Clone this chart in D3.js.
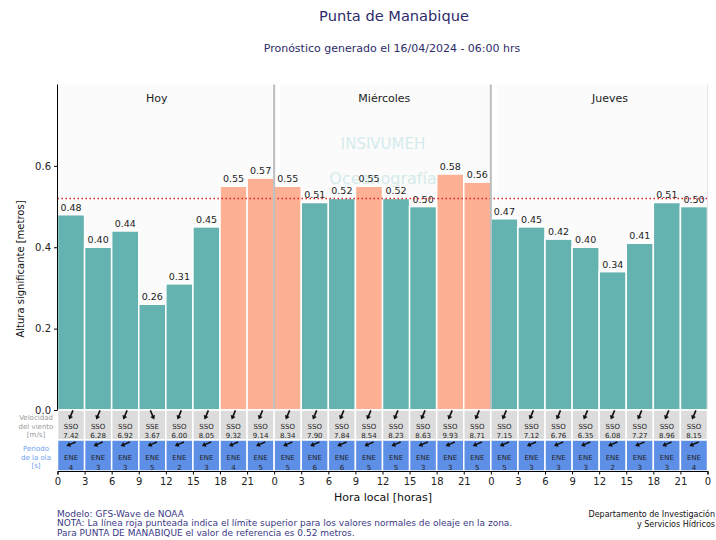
<!DOCTYPE html>
<html>
<head>
<meta charset="utf-8">
<script src="https://cdn.jsdelivr.net/npm/d3@7"></script>
<style>
  body { margin: 0; background: #fff; }
  svg { font-family: "DejaVu Sans", sans-serif; }
</style>
</head>
<body>
<svg id="chart" width="716" height="540"></svg>
<script>
// forecast start hour of each 3h block (0 = hoy 00:00)
const startHours = [0, 3, 6, 9, 12, 15, 18, 21, 24, 27, 30, 33, 36, 39, 42, 45, 48, 51, 54, 57, 60, 63, 66, 69];
const waveHeight = [0.48, 0.40, 0.44, 0.26, 0.31, 0.45, 0.55, 0.57,
                    0.55, 0.51, 0.52, 0.55, 0.52, 0.50, 0.58, 0.56,
                    0.47, 0.45, 0.42, 0.40, 0.34, 0.41, 0.51, 0.50];
const windDir = ["SSO", "SSO", "SSO", "SSE", "SSO", "SSO", "SSO", "SSO",
                 "SSO", "SSO", "SSO", "SSO", "SSO", "SSO", "SSO", "SSO",
                 "SSO", "SSO", "SSO", "SSO", "SSO", "SSO", "SSO", "SSO"];
const windSpeed = [7.42, 6.28, 6.92, 3.67, 6.00, 8.05, 9.32, 9.14,
                   8.34, 7.90, 7.84, 8.54, 8.23, 8.63, 9.93, 8.71,
                   7.15, 7.12, 6.76, 6.35, 6.08, 7.27, 8.96, 8.15];
const waveDir = ["ENE", "ENE", "ENE", "ENE", "ENE", "ENE", "ENE", "ENE",
                 "ENE", "ENE", "ENE", "ENE", "ENE", "ENE", "ENE", "ENE",
                 "ENE", "ENE", "ENE", "ENE", "ENE", "ENE", "ENE", "ENE"];
const wavePeriod = [4, 3, 3, 5, 2, 3, 4, 5,
                    5, 6, 6, 5, 5, 3, 3, 5,
                    5, 3, 3, 3, 2, 3, 3, 4];
const days = ["Hoy", "Miércoles", "Jueves"];
const dayStart = [0, 24, 48];
const dayLabelHour = [11, 36.2, 61.2];
const xTicks = [0, 3, 6, 9, 12, 15, 18, 21, 24, 27, 30, 33, 36, 39, 42, 45, 48, 51, 54, 57, 60, 63, 66, 69, 72];
const yTicks = [0, 0.2, 0.4, 0.6];
const threshold = 0.52;

const bearing = {N: 0, NNE: 22.5, NE: 45, ENE: 67.5, E: 90, ESE: 112.5, SE: 135, SSE: 157.5,
                 S: 180, SSO: 202.5, SO: 225, OSO: 247.5, O: 270, ONO: 292.5, NO: 315, NNO: 337.5};

const data = startHours.map((h, i) => ({
  h: h, v: waveHeight[i], wd: windDir[i], ws: windSpeed[i], pd: waveDir[i], pp: wavePeriod[i]
}));

const svg = d3.select("#chart");
const titleColor = "#2e2b6b";
const teal = "#64b3b1";
const salmon = "#fdb093";

const x = d3.scaleLinear().domain([0, 72]).range([57.5, 707.5]);
const y = d3.scaleLinear().domain([0, 0.8]).range([410, 84.5]);
const rowWindTop = 410, rowWaveTop = 440, rowBottom = 471;

svg.append("rect").attr("width", 716).attr("height", 540).attr("fill", "#fff");

// titles
svg.append("text").attr("x", 394).attr("y", 21).attr("text-anchor", "middle")
  .attr("font-size", 14.6).attr("fill", titleColor).text("Punta de Manabique");
svg.append("text").attr("x", 392).attr("y", 52).attr("text-anchor", "middle")
  .attr("font-size", 11).attr("fill", titleColor).text("Pronóstico generado el 16/04/2024 - 06:00 hrs");

// day panels
svg.append("g").selectAll("rect").data(dayStart).join("rect")
  .attr("x", (d, i) => x(d) + (i == 0 ? 0 : 6))
  .attr("y", y(0.8))
  .attr("width", (d, i) => x(d + 24) - x(d) - (i == 0 ? 0 : 6))
  .attr("height", y(0) - y(0.8))
  .attr("fill", "#fbfbfb");

// watermark
svg.append("text").attr("x", 383).attr("y", 149).attr("text-anchor", "middle")
  .attr("font-size", 15).attr("fill", "#d5ebeb").text("INSIVUMEH");
svg.append("text").attr("x", 383).attr("y", 184).attr("text-anchor", "middle")
  .attr("font-size", 16).attr("fill", "#d5ebeb").text("Oceanografía");

// bars
svg.append("g").selectAll("rect").data(data).join("rect")
  .attr("x", d => x(d.h))
  .attr("y", d => y(d.v))
  .attr("width", d => x(d.h + 3) - x(d.h))
  .attr("height", d => y(0) - y(d.v))
  .attr("fill", d => d.v > threshold ? salmon : teal)
  .attr("stroke", "#fff").attr("stroke-width", 1.5);

svg.append("g").selectAll("text").data(data).join("text")
  .attr("x", d => x(d.h + 1.5))
  .attr("y", d => y(d.v) - 4)
  .attr("text-anchor", "middle")
  .attr("font-size", 9.5).attr("fill", "#222")
  .text(d => d.v.toFixed(2));

// threshold line
svg.append("line")
  .attr("x1", x(0)).attr("x2", x(72))
  .attr("y1", y(threshold)).attr("y2", y(threshold))
  .attr("stroke", "#d62728").attr("stroke-width", 1.5).attr("stroke-dasharray", "1.5,2.5");

// day separators
svg.append("g").selectAll("line").data([24, 48]).join("line")
  .attr("x1", d => x(d)).attr("x2", d => x(d))
  .attr("y1", y(0.8)).attr("y2", y(0))
  .attr("stroke", "#bdbdbd").attr("stroke-width", 2);
svg.append("line").attr("x1", x(72)).attr("x2", x(72)).attr("y1", y(0.8)).attr("y2", y(0))
  .attr("stroke", "#e4e4e4").attr("stroke-width", 1);

svg.append("g").selectAll("text").data(days).join("text")
  .attr("x", (d, i) => x(dayLabelHour[i]))
  .attr("y", 102)
  .attr("text-anchor", "middle")
  .attr("font-size", 11).attr("fill", "#222")
  .text(d => d);

// wind / wave rows
const cells = svg.append("g").selectAll("g").data(data).join("g");
cells.append("rect")
  .attr("x", d => x(d.h)).attr("y", rowWindTop)
  .attr("width", d => x(d.h + 3) - x(d.h)).attr("height", rowWaveTop - rowWindTop)
  .attr("fill", "#dcdcdc").attr("stroke", "#fff").attr("stroke-width", 1.5);
cells.append("rect")
  .attr("x", d => x(d.h)).attr("y", rowWaveTop)
  .attr("width", d => x(d.h + 3) - x(d.h)).attr("height", rowBottom - rowWaveTop)
  .attr("fill", "#5e8fe6").attr("stroke", "#fff").attr("stroke-width", 1.5);

const arrowPath = "M-5,-0.8 L1,-0.8 L1,-2.6 L5,0 L1,2.6 L1,0.8 L-5,0.8 Z";
cells.append("path")
  .attr("d", arrowPath)
  .attr("fill", "#111")
  .attr("transform", d => `translate(${x(d.h + 1.5)},${rowWindTop + 5}) rotate(${bearing[d.wd] - 90})`);
cells.append("path")
  .attr("d", arrowPath)
  .attr("fill", "#111")
  .attr("transform", d => `translate(${x(d.h + 1.5)},${rowWaveTop + 4}) rotate(${bearing[d.pd] + 90})`);

const small = (sel, yy, f) => sel.append("text")
  .attr("x", d => x(d.h + 1.5)).attr("y", yy)
  .attr("text-anchor", "middle").attr("font-size", 7).attr("fill", "#222")
  .text(f);
small(cells, 428.5, d => d.wd);
small(cells, 438, d => d.ws.toFixed(2));
small(cells, 459.5, d => d.pd);
small(cells, 469.5, d => d.pp);

// row labels
svg.append("g").selectAll("text").data(["Velocidad", "del viento", "[m/s]"]).join("text")
  .attr("x", 36).attr("y", (d, i) => 420 + i * 8.5)
  .attr("text-anchor", "middle").attr("font-size", 7).attr("fill", "#9a9a9a").text(d => d);
svg.append("g").selectAll("text").data(["Periodo", "de la ola", "[s]"]).join("text")
  .attr("x", 36).attr("y", (d, i) => 451 + i * 8.5)
  .attr("text-anchor", "middle").attr("font-size", 7).attr("fill", "#6f9ff0").text(d => d);

// axes
const yAxis = svg.append("g").attr("transform", `translate(${x(0)},0)`)
  .call(d3.axisLeft(y).tickValues(yTicks).tickFormat(d3.format(".1f")).tickSize(3.5));
yAxis.select(".domain").attr("d", `M0,${y(0.8)}V${y(0)}`).attr("stroke", "#000");
yAxis.selectAll("text").attr("font-size", 10).attr("fill", "#222").attr("font-family", "DejaVu Sans");

const xAxis = svg.append("g").attr("transform", `translate(0,${rowBottom})`)
  .call(d3.axisBottom(x).tickValues(xTicks).tickFormat(d => d % 24).tickSize(3.5));
xAxis.selectAll("text").attr("font-size", 10).attr("fill", "#222").attr("font-family", "DejaVu Sans");

svg.append("text").attr("transform", "translate(24,269) rotate(-90)")
  .attr("text-anchor", "middle").attr("font-size", 10).attr("fill", "#111")
  .text("Altura significante [metros]");
svg.append("text").attr("x", 383).attr("y", 501).attr("text-anchor", "middle")
  .attr("font-size", 11).attr("fill", "#111").text("Hora local [horas]");

// footer notes
const notes = ["Modelo: GFS-Wave de NOAA",
  "NOTA: La línea roja punteada indica el límite superior para los valores normales de oleaje en la zona.",
  "Para PUNTA DE MANABIQUE el valor de referencia es 0.52 metros."];
svg.append("g").selectAll("text").data(notes).join("text")
  .attr("x", 57).attr("y", (d, i) => 516.5 + i * 9.8)
  .attr("font-size", 9).attr("fill", "#3b3986").text(d => d);
svg.append("g").selectAll("text").data(["Departamento de Investigación", "y Servicios Hídricos"]).join("text")
  .attr("x", 715).attr("y", (d, i) => 517 + i * 10)
  .attr("text-anchor", "end").attr("font-size", 8).attr("fill", "#111").text(d => d);
</script>
</body>
</html>
